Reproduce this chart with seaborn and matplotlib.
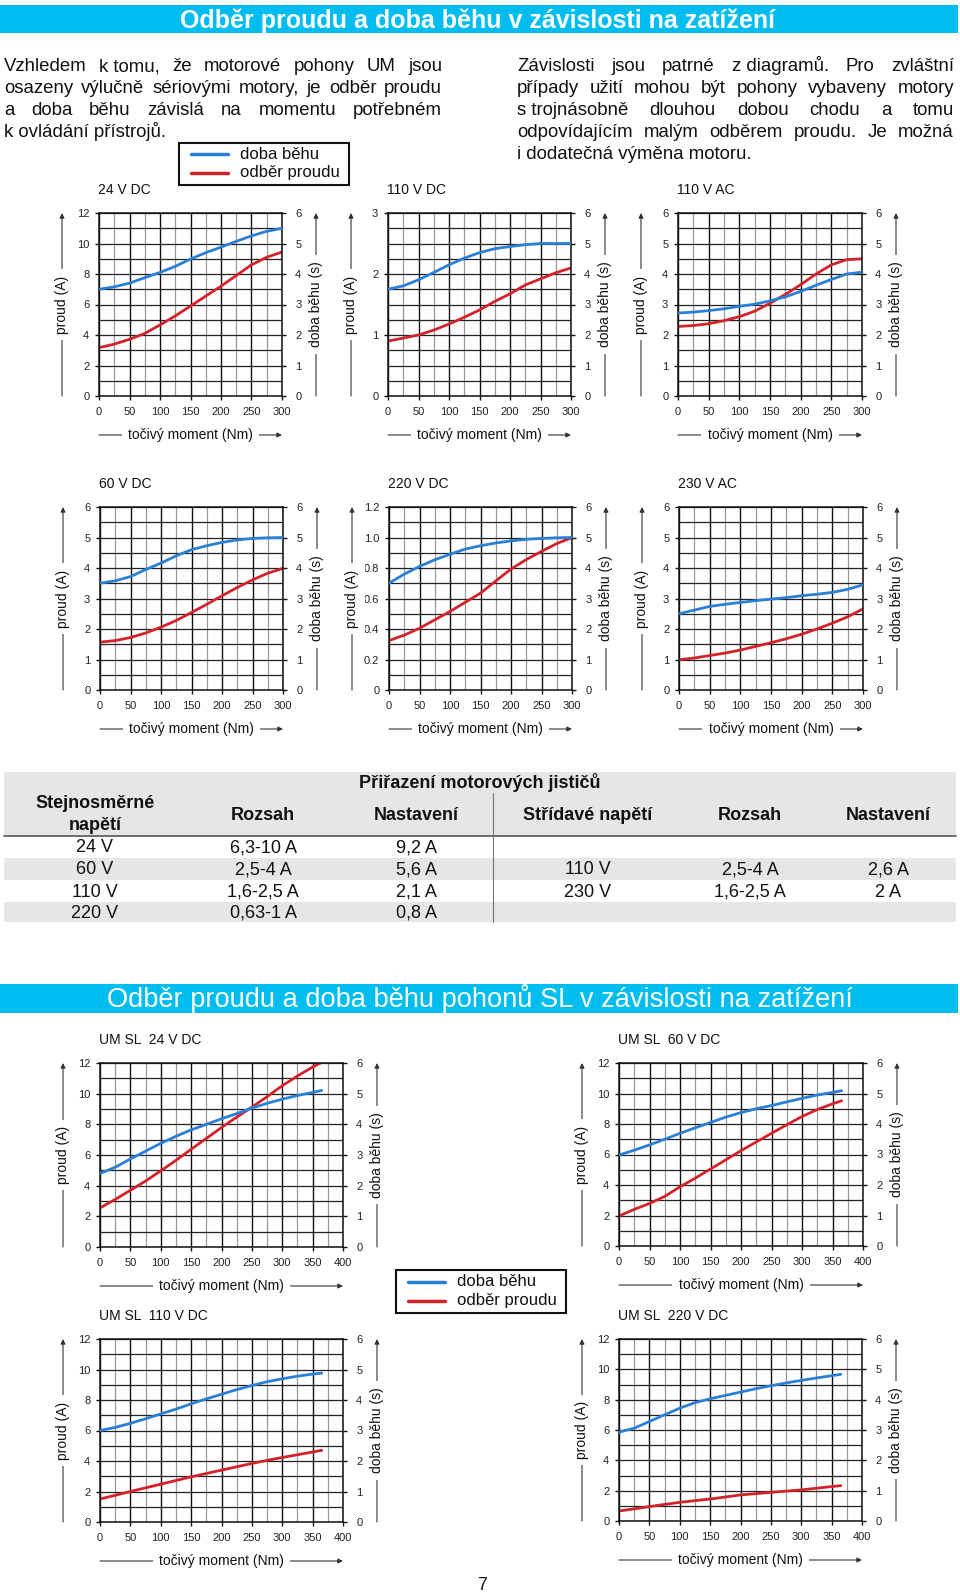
import numpy as np
import matplotlib
matplotlib.use("Agg")
import matplotlib.pyplot as plt
import seaborn as sns
from matplotlib.patches import Rectangle, FancyArrowPatch
from matplotlib.lines import Line2D

# ---------------- data ----------------
torque_std = [0, 25, 50, 75, 100, 125, 150, 175, 200, 225, 250, 275, 300]
torque_sl = [0, 25, 50, 75, 100, 125, 150, 175, 200, 225, 250, 275, 300, 325, 350, 365]

# run time (s) = doba běhu, current (A) = odběr proudu
run_24dc = [3.5, 3.58, 3.7, 3.88, 4.05, 4.25, 4.49, 4.7, 4.88, 5.07, 5.25, 5.4, 5.5]
cur_24dc = [3.17, 3.4, 3.72, 4.1, 4.66, 5.25, 5.9, 6.55, 7.2, 7.9, 8.6, 9.1, 9.44]

run_110dc = [3.5, 3.61, 3.81, 4.05, 4.3, 4.52, 4.7, 4.83, 4.9, 4.96, 5.0, 5.0, 5.0]
cur_110dc = [0.9, 0.95, 1.0, 1.08, 1.18, 1.29, 1.41, 1.55, 1.675, 1.82, 1.92, 2.02, 2.1]

run_110ac = [2.72, 2.75, 2.8, 2.86, 2.94, 3.01, 3.12, 3.25, 3.43, 3.63, 3.82, 4.0, 4.06]
cur_110ac = [2.28, 2.31, 2.37, 2.47, 2.6, 2.78, 3.04, 3.33, 3.65, 4.0, 4.3, 4.47, 4.5]

run_60dc = [3.5, 3.58, 3.72, 3.95, 4.16, 4.4, 4.6, 4.73, 4.84, 4.92, 4.97, 4.99, 5.0]
cur_60dc = [1.57, 1.62, 1.72, 1.87, 2.06, 2.28, 2.54, 2.81, 3.09, 3.36, 3.61, 3.83, 3.99]

run_220dc = [3.5, 3.8, 4.05, 4.27, 4.45, 4.62, 4.73, 4.82, 4.89, 4.94, 4.97, 4.99, 5.0]
cur_220dc = [0.324, 0.36, 0.405, 0.46, 0.515, 0.575, 0.635, 0.715, 0.793, 0.855, 0.909, 0.96, 1.0]

run_230ac = [2.5, 2.62, 2.74, 2.81, 2.87, 2.93, 2.98, 3.03, 3.09, 3.14, 3.2, 3.3, 3.45]
cur_230ac = [0.99, 1.05, 1.13, 1.21, 1.31, 1.43, 1.55, 1.68, 1.83, 2.0, 2.19, 2.4, 2.66]

run_sl24 = [2.4, 2.6, 2.87, 3.125, 3.38, 3.61, 3.82, 4.0, 4.18, 4.35, 4.53, 4.685, 4.82, 4.94, 5.04, 5.105]
cur_sl24 = [2.55, 3.1, 3.7, 4.3, 4.97, 5.65, 6.37, 7.08, 7.79, 8.47, 9.12, 9.8, 10.52, 11.15, 11.74, 12.04]

run_sl60 = [2.985, 3.14, 3.315, 3.5, 3.695, 3.875, 4.05, 4.225, 4.375, 4.5, 4.605, 4.725, 4.84, 4.95, 5.035, 5.09]
cur_sl60 = [1.97, 2.4, 2.79, 3.25, 3.88, 4.45, 5.05, 5.65, 6.25, 6.82, 7.39, 7.95, 8.49, 8.95, 9.32, 9.52]

run_sl110 = [3.0, 3.1, 3.235, 3.385, 3.545, 3.7, 3.875, 4.035, 4.19, 4.34, 4.475, 4.6, 4.695, 4.78, 4.85, 4.88]
cur_sl110 = [1.51, 1.75, 2.0, 2.24, 2.48, 2.72, 2.96, 3.18, 3.4, 3.62, 3.84, 4.04, 4.23, 4.41, 4.59, 4.7]

run_sl220 = [2.93, 3.06, 3.28, 3.5, 3.72, 3.9, 4.03, 4.14, 4.25, 4.36, 4.46, 4.55, 4.635, 4.715, 4.79, 4.835]
cur_sl220 = [0.66, 0.8, 0.95, 1.09, 1.23, 1.34, 1.45, 1.58, 1.72, 1.8, 1.89, 1.97, 2.05, 2.16, 2.27, 2.33]

# table
dc_voltage = ["24 V", "60 V", "110 V", "220 V"]
dc_range = ["6,3-10 A", "2,5-4 A", "1,6-2,5 A", "0,63-1 A"]
dc_setting = ["9,2 A", "5,6 A", "2,1 A", "0,8 A"]
ac_voltage = ["", "110 V", "230 V", ""]
ac_range = ["", "2,5-4 A", "1,6-2,5 A", ""]
ac_setting = ["", "2,6 A", "2 A", ""]

# texts
title_top = "Odběr proudu a doba běhu v závislosti na zatížení"
title_sl = "Odběr proudu a doba běhu pohonů SL v závislosti na zatížení"
para_left = ["Vzhledem k\u00a0tomu, že motorové pohony UM jsou",
             "osazeny výlučně sériovými motory, je odběr proudu",
             "a doba běhu závislá na momentu potřebném",
             "k ovládání přístrojů."]
para_right = ["Závislosti jsou patrné z\u00a0diagramů. Pro zvláštní",
              "případy užití mohou být pohony vybaveny motory",
              "s\u00a0trojnásobně dlouhou dobou chodu a tomu",
              "odpovídajícím malým odběrem proudu. Je možná",
              "i dodatečná výměna motoru."]

# ---------------- style ----------------
sns.set_theme(style="white")
plt.rcParams["font.family"] = ["Liberation Sans", "DejaVu Sans"]

BLUE = "#2a7fd6"
RED = "#d3222a"
CYAN = "#00bdf0"
GRAY_ROW = "#e6e6e6"

W, H = 960, 1592
fig = plt.figure(figsize=(W / 100, H / 100), dpi=100)


def fx(x):
    return x / W


def fy(y):
    return 1 - y / H


def txt(x, y, s, **kw):
    kw.setdefault("ha", "center")
    kw.setdefault("va", "center")
    kw.setdefault("color", "#111111")
    return fig.text(fx(x), fy(y), s, **kw)


def rect(x0, y0, x1, y1, fc, ec="none", lw=0, z=0):
    fig.add_artist(Rectangle((fx(x0), fy(y1)), (x1 - x0) / W, (y1 - y0) / H,
                             transform=fig.transFigure, facecolor=fc,
                             edgecolor=ec, linewidth=lw, zorder=z))


def seg(x0, y0, x1, y1, color="#333333", lw=1.0, z=1):
    fig.add_artist(Line2D([fx(x0), fx(x1)], [fy(y0), fy(y1)],
                          transform=fig.transFigure, color=color, lw=lw, zorder=z))


def arrow(x0, y0, x1, y1):
    fig.add_artist(FancyArrowPatch((fx(x0), fy(y0)), (fx(x1), fy(y1)),
                                   transform=fig.transFigure, arrowstyle="-|>",
                                   mutation_scale=7, lw=0.8, color="#333333",
                                   shrinkA=0, shrinkB=0, zorder=1))


MASK = dict(boxstyle="square,pad=0.45", fc="white", ec="none")


def chart(box, title, xs, cur, run, ymax, ystep, xmax, fmt):
    l, t, r, b = box
    ax = fig.add_axes([fx(l), fy(b), (r - l) / W, (b - t) / H])
    sns.lineplot(x=xs, y=cur, ax=ax, color=RED, lw=2.0)
    ax.set_xlim(0, xmax)
    ax.set_ylim(0, ymax)
    ax.set_xticks(np.arange(0, xmax + 1, 50))
    ax.set_xticks(np.arange(25, xmax, 50), minor=True)
    majors = np.arange(0, ymax + ystep / 2, ystep)
    ax.set_yticks(majors)
    ax.set_yticklabels([fmt(v) for v in majors])
    ax.set_yticks(np.linspace(0, ymax, 13), minor=True)
    ax.grid(True, which="major", axis="x", color="#111111", lw=1.0)
    ax.grid(True, which="minor", axis="x", color="#9a9a9a", lw=0.9)
    ax.grid(True, which="both", axis="y", color="#222222", lw=0.9)
    ax.set_axisbelow(True)
    ax.tick_params(axis="both", which="major", length=3, width=1, color="#111111",
                   labelsize=8, labelcolor="#222222", left=True, bottom=True)
    ax.tick_params(axis="y", pad=4)
    ax.tick_params(axis="x", pad=5)
    ax.tick_params(which="minor", length=0)
    for s in ax.spines.values():
        s.set_color("#111111")
        s.set_linewidth(1.1)
    ax.set_xlabel("")
    ax.set_ylabel("")

    ax2 = ax.twinx()
    sns.lineplot(x=xs, y=run, ax=ax2, color=BLUE, lw=2.0)
    ax2.set_ylim(0, 6)
    ax2.set_yticks(range(7))
    ax2.tick_params(axis="y", length=3, width=1, color="#111111", labelsize=8,
                    labelcolor="#222222", pad=6.5, right=True)
    for s in ax2.spines.values():
        s.set_visible(False)
    ax2.set_ylabel("")
    ax2.set_xlabel("")

    # decorations
    xl = l - 37
    arrow(xl, b, xl, t)
    txt(xl, (t + b) / 2, "proud (A)", rotation=90, fontsize=10, bbox=MASK)
    xr = r + 34
    arrow(xr, b, xr, t)
    txt(xr, (t + b) / 2, "doba běhu (s)", rotation=90, fontsize=10, bbox=MASK)
    yb = b + 39
    arrow(l, yb, r, yb)
    txt((l + r) / 2, yb, "točivý moment (Nm)", fontsize=10, bbox=MASK)
    txt(l - 1, t - 23, title, ha="left", fontsize=10)


def fmt_int(v):
    return f"{v:g}"


def fmt_dec(v):
    return "0" if v == 0 else f"{v:.1f}"


# ---------------- headers ----------------
rect(0, 5, 958, 33, CYAN)
txt(180, 28, title_top, ha="left", va="baseline", fontsize=18, fontweight="bold", color="white")
rect(0, 984, 958, 1013, CYAN)
txt(480, 1007, title_sl, ha="center", va="baseline", fontsize=19.6, color="white")

# ---------------- paragraphs (justified) ----------------
renderer = fig.canvas.get_renderer()


def justify(lines, x0, x1, y0, dy, size):
    for i, line in enumerate(lines):
        y = y0 + i * dy
        words = line.split(" ")
        if i == len(lines) - 1 or len(words) == 1:
            txt(x0, y, line, ha="left", va="baseline", fontsize=size)
            continue
        objs = [txt(0, 0, w, ha="left", va="baseline", fontsize=size) for w in words]
        widths = [o.get_window_extent(renderer).width for o in objs]
        gap = (x1 - x0 - sum(widths)) / (len(words) - 1)
        x = x0
        for o, w in zip(objs, widths):
            o.set_position((fx(x), fy(y)))
            x += w + gap


justify(para_left, 4, 442, 71, 22, 13.4)
justify(para_right, 517, 954, 71, 22, 13.4)

# ---------------- legends ----------------
def legend(x0, y0, x1, y1):
    rect(x0, y0, x1, y1, "white", ec="#111111", lw=1.5, z=2)
    ya = y0 + (y1 - y0) * 0.27
    yb = y0 + (y1 - y0) * 0.71
    seg(x0 + 12, ya, x0 + 49, ya, color=BLUE, lw=2.5, z=3)
    seg(x0 + 12, yb, x0 + 49, yb, color=RED, lw=2.5, z=3)
    txt(x0 + 61, ya, "doba běhu", ha="left", fontsize=12)
    txt(x0 + 61, yb, "odběr proudu", ha="left", fontsize=12)


legend(179, 143, 349, 185)
legend(396, 1270, 566, 1313)

# ---------------- charts ----------------
chart((99, 213, 282, 396), "24 V DC", torque_std, cur_24dc, run_24dc, 12, 2, 300, fmt_int)
chart((388, 213, 571, 396), "110 V DC", torque_std, cur_110dc, run_110dc, 3, 1, 300, fmt_int)
chart((678, 213, 862, 396), "110 V AC", torque_std, cur_110ac, run_110ac, 6, 1, 300, fmt_int)
chart((100, 507, 283, 690), "60 V DC", torque_std, cur_60dc, run_60dc, 6, 1, 300, fmt_int)
chart((389, 507, 572, 690), "220 V DC", torque_std, cur_220dc, run_220dc, 1.2, 0.2, 300, fmt_dec)
chart((679, 507, 863, 690), "230 V AC", torque_std, cur_230ac, run_230ac, 6, 1, 300, fmt_int)

chart((100, 1063, 343, 1247), "UM SL  24 V DC", torque_sl, cur_sl24, run_sl24, 12, 2, 400, fmt_int)
chart((619, 1063, 863, 1246), "UM SL  60 V DC", torque_sl, cur_sl60, run_sl60, 12, 2, 400, fmt_int)
chart((100, 1339, 343, 1522), "UM SL  110 V DC", torque_sl, cur_sl110, run_sl110, 12, 2, 400, fmt_int)
chart((619, 1339, 862, 1521), "UM SL  220 V DC", torque_sl, cur_sl220, run_sl220, 12, 2, 400, fmt_int)

# ---------------- table ----------------
TL, TR = 4, 956
rect(TL, 772, TR, 836, GRAY_ROW)
rect(TL, 858, TR, 880, GRAY_ROW)
rect(TL, 902, TR, 922, GRAY_ROW)
seg(TL, 836, TR, 836, color="#555555", lw=1.2, z=1)
seg(493, 793, 493, 922, color="#777777", lw=0.8, z=1)

TF = 13
txt(480, 783, "Přiřazení motorových jističů", fontsize=TF, fontweight="bold")
txt(95, 804, "Stejnosměrné", fontsize=TF, fontweight="bold")
txt(95, 826, "napětí", fontsize=TF, fontweight="bold")
for xc, lab in [(263, "Rozsah"), (416, "Nastavení"), (588, "Střídavé napětí"),
                (750, "Rozsah"), (888, "Nastavení")]:
    txt(xc, 815, lab, fontsize=TF, fontweight="bold")

row_y = [848, 870, 892, 913]
cols = [(95, dc_voltage), (263, dc_range), (416, dc_setting),
        (588, ac_voltage), (750, ac_range), (888, ac_setting)]
for xc, vals in cols:
    for yv, v in zip(row_y, vals):
        if v:
            txt(xc, yv, v, fontsize=TF)

# page number
txt(482, 1585, "7", fontsize=13)

fig.savefig("out.png", dpi=100)
